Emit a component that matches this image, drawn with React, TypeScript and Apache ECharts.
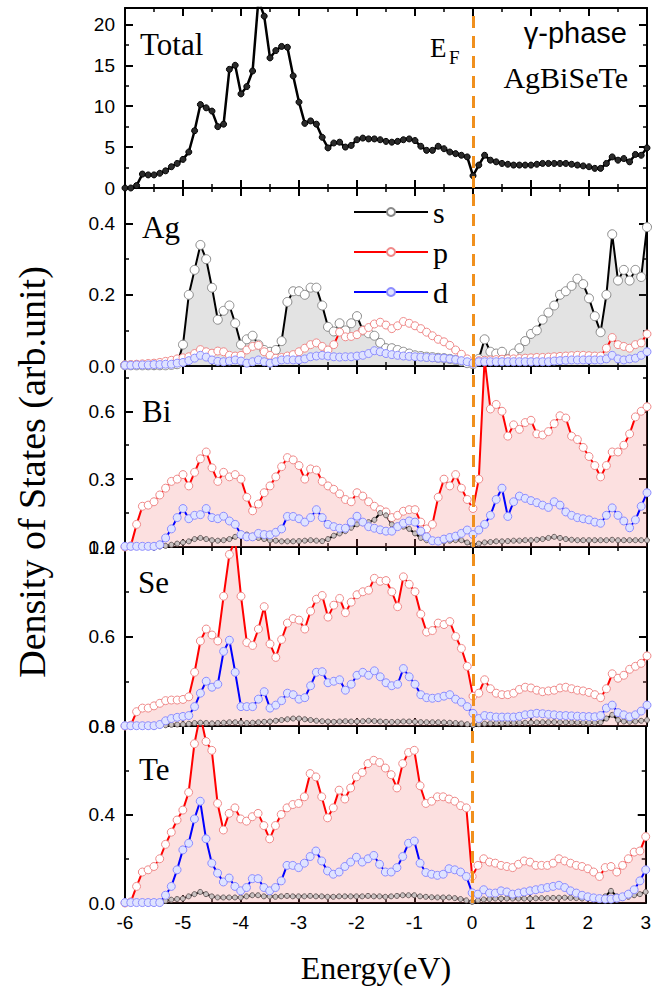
import React, { useEffect, useRef } from 'react';
import * as echarts from 'echarts';

// Energy grid (eV), 0.1 eV steps from -6 to 3
const ENERGY: number[] = Array.from({ length: 91 }, (_, i) => Math.round((-6 + i * 0.1) * 10) / 10);

const TOTAL = [
  0, 0, 0.3, 1.7, 1.6, 1.6, 1.8, 2.1, 2.6, 3.0,
  3.5, 4.4, 7.0, 10.2, 9.8, 9.4, 7.5, 7.8, 14.5, 15.0,
  11.5, 12.4, 14.3, 23, 21, 15.9, 16.8, 17.3, 17.2, 13.7,
  10.5, 7.9, 8.2, 7.8, 6.2, 4.9, 5.5, 5.6, 5.0, 5.2,
  5.9, 6.1, 6.0, 6.0, 5.9, 5.7, 5.6, 5.7, 5.9, 6.0,
  5.8, 5.1, 4.6, 4.6, 5.1, 4.8, 4.4, 4.2, 4.0, 3.8,
  1.5, 2.8, 4.0, 3.4, 3.2, 3.0, 2.9, 2.8, 2.8, 2.8,
  2.8, 2.9, 3.0, 3.0, 3.0, 3.0, 3.0, 2.9, 2.8, 2.7,
  2.6, 2.4, 2.4, 3.0, 3.8, 3.4, 3.6, 3.2, 4.1, 4.0,
  4.9,
];

const AG_S = [
  0.002, 0.002, 0.002, 0.002, 0.002, 0.002, 0.002, 0.002, 0.003, 0.005,
  0.06, 0.2, 0.27, 0.34, 0.30, 0.22, 0.13, 0.155, 0.17, 0.12,
  0.06, 0.075, 0.085, 0.06, 0.045, 0.04, 0.045, 0.07, 0.18, 0.21,
  0.21, 0.2, 0.22, 0.22, 0.17, 0.11, 0.097, 0.12, 0.1, 0.12,
  0.14, 0.1, 0.092, 0.085, 0.065, 0.05, 0.05, 0.045, 0.04, 0.035,
  0.03, 0.028, 0.026, 0.025, 0.023, 0.022, 0.02, 0.017, 0.013, 0.008,
  0.005, 0.02, 0.075, 0.04, 0.035, 0.04, 0.02, 0.035, 0.05, 0.07,
  0.09, 0.1, 0.13, 0.15, 0.17, 0.2, 0.21, 0.225, 0.245, 0.23,
  0.19, 0.14, 0.095, 0.2, 0.37, 0.24, 0.27, 0.24, 0.27, 0.25,
  0.39,
];
const AG_P = [
  0.003, 0.004, 0.005, 0.006, 0.007, 0.008, 0.01, 0.013, 0.016, 0.02,
  0.023, 0.026, 0.035, 0.046, 0.04, 0.036, 0.042, 0.04, 0.03, 0.028,
  0.03, 0.045, 0.055, 0.058, 0.04, 0.03, 0.022, 0.024, 0.028, 0.032,
  0.04, 0.05, 0.06, 0.065, 0.055, 0.045, 0.06, 0.095, 0.082, 0.083,
  0.088, 0.1, 0.108, 0.118, 0.123, 0.115, 0.105, 0.113, 0.125, 0.12,
  0.113, 0.105, 0.095, 0.085, 0.075, 0.068, 0.058, 0.045, 0.033, 0.02,
  0.008, 0.015, 0.016, 0.017, 0.018, 0.019, 0.02, 0.02, 0.021, 0.022,
  0.023, 0.024, 0.024, 0.025, 0.026, 0.027, 0.028, 0.029, 0.03, 0.03,
  0.029, 0.028, 0.028, 0.05, 0.08, 0.06, 0.055, 0.05, 0.06, 0.065,
  0.09,
];
const AG_D = [
  0.002, 0.002, 0.003, 0.003, 0.003, 0.004, 0.004, 0.005, 0.005, 0.008,
  0.01, 0.015, 0.022, 0.03, 0.025, 0.017, 0.013, 0.012, 0.014, 0.017,
  0.014, 0.008, 0.012, 0.017, 0.012, 0.008, 0.012, 0.017, 0.018, 0.017,
  0.017, 0.02, 0.026, 0.028, 0.03, 0.028, 0.026, 0.025, 0.026, 0.026,
  0.028, 0.03, 0.035, 0.043, 0.04, 0.035, 0.032, 0.03, 0.028, 0.027,
  0.026, 0.025, 0.024, 0.023, 0.022, 0.022, 0.02, 0.018, 0.015, 0.012,
  0.008, 0.012, 0.012, 0.012, 0.012, 0.012, 0.012, 0.012, 0.012, 0.012,
  0.012, 0.012, 0.012, 0.012, 0.014, 0.015, 0.016, 0.017, 0.017, 0.017,
  0.017, 0.017, 0.017, 0.02, 0.03, 0.02, 0.017, 0.02, 0.022, 0.03,
  0.04,
];

const BI_S = [
  0.002, 0.002, 0.002, 0.002, 0.002, 0.002, 0.002, 0.005, 0.01, 0.015,
  0.02, 0.025, 0.035, 0.04, 0.035, 0.03, 0.028, 0.03, 0.035, 0.045,
  0.05, 0.055, 0.05, 0.04, 0.035, 0.03, 0.028, 0.025, 0.025, 0.025,
  0.026, 0.028, 0.03, 0.028, 0.026, 0.035, 0.05, 0.06, 0.07, 0.085,
  0.1, 0.105, 0.11, 0.12, 0.15, 0.14, 0.1, 0.095, 0.09, 0.08,
  0.06, 0.04, 0.03, 0.025, 0.025, 0.025, 0.028, 0.03, 0.03, 0.02,
  0.01, 0.015, 0.02, 0.022, 0.025, 0.025, 0.026, 0.028, 0.028, 0.03,
  0.03, 0.032, 0.035, 0.04, 0.045, 0.04, 0.035, 0.032, 0.03, 0.03,
  0.03, 0.03, 0.03, 0.03, 0.032, 0.03, 0.03, 0.03, 0.03, 0.03,
  0.03,
];
const BI_P = [
  0, 0.005, 0.1, 0.18, 0.185, 0.2, 0.23, 0.26, 0.29, 0.30,
  0.32, 0.27, 0.33, 0.39, 0.42, 0.35, 0.29, 0.33, 0.31, 0.32,
  0.30, 0.22, 0.16, 0.19, 0.24, 0.27, 0.31, 0.355, 0.395, 0.385,
  0.36, 0.30, 0.345, 0.34, 0.29, 0.27, 0.255, 0.235, 0.21, 0.2,
  0.24, 0.225, 0.2, 0.18, 0.165, 0.155, 0.13, 0.14, 0.158, 0.165,
  0.165, 0.11, 0.08, 0.1, 0.22, 0.3, 0.27, 0.32, 0.26, 0.21,
  0.17, 0.3, 0.83, 0.61, 0.63, 0.6, 0.49, 0.54, 0.52, 0.55,
  0.56, 0.5, 0.495, 0.51, 0.545, 0.58, 0.57, 0.49, 0.475, 0.44,
  0.40, 0.36, 0.31, 0.36, 0.42, 0.42, 0.45, 0.5, 0.575, 0.6,
  0.62,
];
const BI_D = [
  0.003, 0.003, 0.003, 0.003, 0.003, 0.003, 0.01, 0.04, 0.08, 0.13,
  0.17, 0.125, 0.14, 0.143, 0.17, 0.13, 0.125, 0.136, 0.115, 0.1,
  0.055, 0.045, 0.045, 0.06, 0.055, 0.054, 0.065, 0.08, 0.135, 0.135,
  0.125, 0.11, 0.13, 0.165, 0.13, 0.1, 0.09, 0.083, 0.083, 0.11,
  0.136, 0.11, 0.09, 0.083, 0.076, 0.07, 0.07, 0.09, 0.105, 0.115,
  0.11, 0.07, 0.045, 0.028, 0.026, 0.035, 0.042, 0.048, 0.06, 0.075,
  0.055, 0.075, 0.1, 0.14, 0.21, 0.26, 0.135, 0.2, 0.225, 0.215,
  0.205, 0.196, 0.185, 0.175, 0.2, 0.185, 0.155, 0.14, 0.13, 0.125,
  0.12, 0.11, 0.105, 0.14, 0.173, 0.14, 0.115, 0.085, 0.12, 0.18,
  0.24,
];

const SE_S = [
  0.002, 0.002, 0.002, 0.002, 0.002, 0.002, 0.003, 0.005, 0.008, 0.01,
  0.012, 0.015, 0.02, 0.022, 0.02, 0.018, 0.02, 0.022, 0.025, 0.025,
  0.022, 0.02, 0.022, 0.025, 0.028, 0.03, 0.035, 0.04, 0.045, 0.05,
  0.05, 0.045, 0.04, 0.035, 0.032, 0.03, 0.028, 0.03, 0.032, 0.03,
  0.03, 0.032, 0.035, 0.033, 0.03, 0.028, 0.027, 0.028, 0.03, 0.03,
  0.028, 0.026, 0.025, 0.025, 0.025, 0.024, 0.022, 0.02, 0.017, 0.012,
  0.006, 0.012, 0.016, 0.018, 0.02, 0.02, 0.02, 0.021, 0.022, 0.022,
  0.023, 0.024, 0.025, 0.025, 0.026, 0.026, 0.025, 0.024, 0.023, 0.022,
  0.022, 0.022, 0.025, 0.05, 0.075, 0.04, 0.03, 0.028, 0.03, 0.035,
  0.04,
];
const SE_P = [
  0, 0.005, 0.096, 0.12, 0.12, 0.135, 0.152, 0.17, 0.174, 0.174,
  0.178, 0.196, 0.36, 0.57, 0.65, 0.61, 0.57, 0.87, 1.15, 1.25,
  0.87, 0.56, 0.54, 0.65, 0.8, 0.55, 0.46, 0.58, 0.69, 0.72,
  0.71, 0.65, 0.77, 0.85, 0.875, 0.73, 0.81, 0.855, 0.76, 0.83,
  0.88, 0.9, 0.91, 0.99, 0.97, 0.975, 0.9, 0.8, 1.0, 0.95,
  0.9, 0.75, 0.63, 0.64, 0.69, 0.68, 0.7, 0.6, 0.52, 0.4,
  0.2, 0.22, 0.31, 0.25, 0.22, 0.21, 0.21, 0.22, 0.245, 0.26,
  0.255, 0.24, 0.23, 0.235, 0.24, 0.255, 0.26, 0.25, 0.24, 0.235,
  0.225, 0.21, 0.19, 0.25, 0.35, 0.32, 0.34, 0.38, 0.4, 0.42,
  0.47,
];
const SE_D = [
  0.002, 0.002, 0.002, 0.002, 0.002, 0.002, 0.01, 0.035, 0.05, 0.058,
  0.064, 0.07, 0.13, 0.22, 0.3, 0.26, 0.28, 0.5, 0.575, 0.36,
  0.13, 0.13, 0.13, 0.18, 0.23, 0.12, 0.14, 0.17, 0.22, 0.21,
  0.18, 0.19, 0.27, 0.36, 0.364, 0.29, 0.3, 0.31, 0.24, 0.28,
  0.34, 0.36, 0.34, 0.37, 0.33, 0.29, 0.27, 0.28, 0.385, 0.33,
  0.28, 0.21, 0.19, 0.186, 0.19, 0.2, 0.21, 0.18, 0.16, 0.13,
  0.085, 0.05, 0.07, 0.065, 0.06, 0.06, 0.06, 0.06, 0.065, 0.075,
  0.08, 0.085, 0.082, 0.078, 0.075, 0.07, 0.07, 0.068, 0.066, 0.064,
  0.063, 0.062, 0.07, 0.12, 0.14, 0.09, 0.075, 0.062, 0.075, 0.1,
  0.14,
];

const TE_S = [
  0.002, 0.002, 0.002, 0.002, 0.002, 0.002, 0.002, 0.01, 0.015, 0.018,
  0.02, 0.03, 0.04, 0.05, 0.04, 0.03, 0.025, 0.025, 0.025, 0.025,
  0.025, 0.03, 0.035, 0.035, 0.03, 0.03, 0.028, 0.03, 0.032, 0.03,
  0.03, 0.03, 0.032, 0.03, 0.03, 0.028, 0.028, 0.03, 0.03, 0.03,
  0.03, 0.03, 0.032, 0.03, 0.03, 0.028, 0.03, 0.032, 0.035, 0.035,
  0.035, 0.03, 0.028, 0.026, 0.025, 0.025, 0.025, 0.022, 0.018, 0.012,
  0.005, 0.012, 0.016, 0.018, 0.02, 0.02, 0.02, 0.02, 0.02, 0.02,
  0.02, 0.021, 0.022, 0.022, 0.023, 0.024, 0.024, 0.023, 0.022, 0.02,
  0.02, 0.02, 0.022, 0.03, 0.055, 0.03, 0.025, 0.028, 0.035, 0.04,
  0.05,
];
const TE_P = [
  0, 0.005, 0.075, 0.14, 0.15, 0.165, 0.2, 0.265, 0.32, 0.375,
  0.42, 0.5, 0.72, 0.85, 0.73, 0.69, 0.45, 0.33, 0.405, 0.43,
  0.38, 0.37, 0.39, 0.405, 0.35, 0.29, 0.35, 0.4, 0.43, 0.445,
  0.45, 0.48, 0.585, 0.57, 0.48, 0.385, 0.43, 0.51, 0.47, 0.52,
  0.57, 0.59, 0.63, 0.645, 0.635, 0.61, 0.58, 0.52, 0.63, 0.68,
  0.69, 0.53, 0.45, 0.46, 0.48, 0.48, 0.47, 0.46, 0.44, 0.43,
  0.12, 0.17, 0.2, 0.185, 0.18, 0.17, 0.165, 0.16, 0.175, 0.19,
  0.185, 0.17, 0.17, 0.17, 0.18, 0.2, 0.19, 0.18, 0.17, 0.165,
  0.155, 0.14, 0.12, 0.16, 0.165, 0.14, 0.17, 0.2, 0.23, 0.235,
  0.3,
];
const TE_D = [
  0.002, 0.002, 0.002, 0.002, 0.002, 0.002, 0.002, 0.035, 0.075, 0.15,
  0.24, 0.27, 0.38, 0.46, 0.29, 0.18, 0.135, 0.095, 0.113, 0.075,
  0.055, 0.07, 0.11, 0.11, 0.07, 0.055, 0.07, 0.1, 0.17, 0.17,
  0.16, 0.18, 0.21, 0.235, 0.19, 0.145, 0.13, 0.14, 0.165, 0.185,
  0.207, 0.185, 0.2, 0.215, 0.175, 0.14, 0.14, 0.16, 0.21, 0.27,
  0.28, 0.18, 0.138, 0.13, 0.125, 0.13, 0.155, 0.15, 0.14, 0.12,
  0.046, 0.04, 0.06, 0.045, 0.045, 0.055, 0.05, 0.04, 0.045, 0.05,
  0.055, 0.06, 0.065, 0.07, 0.075, 0.08, 0.07, 0.055, 0.045, 0.035,
  0.028, 0.023, 0.02, 0.018, 0.018, 0.022, 0.028, 0.04, 0.06, 0.1,
  0.15,
];

const X_TICKS = [-6, -5, -4, -3, -2, -1, 0, 1, 2, 3];
const TOTAL_TICKS = [0, 5, 10, 15, 20];
const AG_TICKS = [0, 0.2, 0.4];
const BI_TICKS = [0, 0.3, 0.6];
const SE_TICKS = [0, 0.6, 1.2];
const TE_TICKS = [0, 0.4, 0.8];
const PANEL_LABELS = ['Total', 'Ag', 'Bi', 'Se', 'Te'];
const ORBITALS = ['s', 'p', 'd'];

const SANS = '"Liberation Sans", Arial, sans-serif';
const SERIF = '"Liberation Serif", "Times New Roman", serif';

// layout (px)
const PLOT_LEFT = 125;
const PLOT_RIGHT = 7;
const PANELS = [
  { top: 8, height: 180, max: 22, interval: 5, ticks: TOTAL_TICKS, dec: 0 },
  { top: 188, height: 178, max: 0.5, interval: 0.2, ticks: AG_TICKS, dec: 1 },
  { top: 366, height: 181, max: 0.8, interval: 0.3, ticks: BI_TICKS, dec: 1 },
  { top: 547, height: 179, max: 1.2, interval: 0.6, ticks: SE_TICKS, dec: 1 },
  { top: 726, height: 177, max: 0.8, interval: 0.4, ticks: TE_TICKS, dec: 1 },
];

const pair = (vals: number[]) => ENERGY.map((e, i) => [e, vals[i]]);
const has = (arr: number[], v: number) => arr.some((t) => Math.abs(t - v) < 1e-6);

const EF_LINE = {
  silent: true,
  symbol: ['none', 'none'],
  label: { show: false },
  lineStyle: { color: '#f0901e', width: 3, type: [12, 8] },
  data: [{ xAxis: 0 }],
};

const STYLE: Record<string, any> = {
  s: { line: '#000000', fill: '#ffffff', border: '#8a8a8a' },
  p: { line: '#ff0000', fill: '#ffffff', border: '#f08a8a' },
  d: { line: '#0000ff', fill: '#dfe3ff', border: '#8d8dff' },
};

function orbSeries(name: string, vals: number[], g: number, opts: any = {}) {
  const st = STYLE[name];
  const s: any = {
    type: 'line',
    name,
    xAxisIndex: 2 * g,
    yAxisIndex: 2 * g,
    data: pair(vals),
    symbol: 'circle',
    symbolSize: opts.size || 8,
    showSymbol: true,
    showAllSymbol: true,
    clip: true,
    lineStyle: { color: st.line, width: 2 },
    itemStyle: { color: opts.markFill || st.fill, borderColor: opts.markBorder || st.border, borderWidth: 1 },
    emphasis: { disabled: true },
  };
  if (opts.area) s.areaStyle = { color: opts.area, origin: 'start' };
  if (opts.ef) s.markLine = EF_LINE;
  return s;
}

export default function App() {
  const ref = useRef<HTMLDivElement>(null);

  useEffect(() => {
    if (!ref.current) return;
    const chart = echarts.init(ref.current, undefined, { renderer: 'svg' });

    const grid = PANELS.map((p) => ({ left: PLOT_LEFT, right: PLOT_RIGHT, top: p.top, height: p.height, containLabel: false }));

    const axisLine = { show: true, onZero: false, lineStyle: { color: '#000', width: 2 } };
    const axisTick = { show: true, inside: true, length: 8, lineStyle: { color: '#000', width: 2 } };
    const minorTick = { show: true, splitNumber: 2, length: 4, lineStyle: { color: '#000', width: 1.5 } };

    const xAxis: any[] = [];
    const yAxis: any[] = [];
    PANELS.forEach((p, i) => {
      xAxis.push({
        type: 'value', gridIndex: i, min: -6, max: 3, interval: 1, position: 'bottom',
        axisLine, axisTick, minorTick, splitLine: { show: false },
        axisLabel: {
          show: i === PANELS.length - 1, margin: 10, fontSize: 19, fontFamily: SANS, color: '#000',
          formatter: (v: number) => (has(X_TICKS, v) ? String(v) : ''),
        },
      });
      xAxis.push({
        type: 'value', gridIndex: i, min: -6, max: 3, interval: 1, position: 'top',
        axisLine, axisTick, minorTick, splitLine: { show: false }, axisLabel: { show: false },
      });
      yAxis.push({
        type: 'value', gridIndex: i, min: 0, max: p.max, interval: p.interval, position: 'left',
        axisLine, axisTick, minorTick, splitLine: { show: false },
        axisLabel: {
          show: true, margin: 10, fontSize: 19, fontFamily: SANS, color: '#000',
          formatter: (v: number) => (has(p.ticks, v) ? v.toFixed(p.dec) : ''),
        },
      });
      yAxis.push({
        type: 'value', gridIndex: i, min: 0, max: p.max, interval: p.interval, position: 'right',
        axisLine, axisTick, minorTick, splitLine: { show: false }, axisLabel: { show: false },
      });
    });

    const pinkArea = 'rgba(242,110,110,0.30)';
    const series: any[] = [
      // Ag first so the legend picks its styles
      orbSeries('s', AG_S, 1, { area: 'rgba(90,90,90,0.24)', ef: true, size: 9 }),
      orbSeries('p', AG_P, 1, { size: 8 }),
      orbSeries('d', AG_D, 1, { size: 8 }),
      {
        type: 'line', name: 'Total', xAxisIndex: 0, yAxisIndex: 0, data: pair(TOTAL),
        symbol: 'circle', symbolSize: 6, showSymbol: true, showAllSymbol: true, clip: true,
        lineStyle: { color: '#000', width: 2.5 },
        itemStyle: { color: '#2a2a2a', borderColor: '#000', borderWidth: 1 },
        emphasis: { disabled: true },
        markLine: EF_LINE,
      },
      orbSeries('p', BI_P, 2, { area: pinkArea, ef: true }),
      orbSeries('s', BI_S, 2, { size: 5, markFill: '#c9c2c2', markBorder: '#6e6060' }),
      orbSeries('d', BI_D, 2, {}),
      orbSeries('p', SE_P, 3, { area: pinkArea, ef: true }),
      orbSeries('s', SE_S, 3, { size: 5, markFill: '#c9c2c2', markBorder: '#6e6060' }),
      orbSeries('d', SE_D, 3, {}),
      orbSeries('p', TE_P, 4, { area: pinkArea, ef: true }),
      orbSeries('s', TE_S, 4, { size: 5, markFill: '#c9c2c2', markBorder: '#6e6060' }),
      orbSeries('d', TE_D, 4, {}),
    ];

    const panelLabelPos = [
      { x: 140, y: 44 },
      { x: 142, y: 227 },
      { x: 142, y: 411 },
      { x: 138, y: 582 },
      { x: 139, y: 769 },
    ];

    const txt = (text: string, x: number, y: number, size: number, family: string, align = 'left', extra: any = {}) => ({
      type: 'text', x, y, silent: true, z: 100,
      style: {
        text, fontSize: size, fontFamily: family, fill: '#000',
        align, verticalAlign: 'middle', textAlign: align, textVerticalAlign: 'middle',
      },
      ...extra,
    });

    const graphic: any[] = [
      ...PANEL_LABELS.map((t, i) => txt(t, panelLabelPos[i].x, panelLabelPos[i].y, 31, SERIF)),
      txt('E', 430, 48, 27, SERIF),
      txt('F', 449, 57, 19, SERIF),
      txt('γ-phase', 627, 33, 29, SANS, 'right'),
      txt('AgBiSeTe', 628, 77, 30, SERIF, 'right'),
      txt('Energy(eV)', 376, 968, 32, SERIF, 'center'),
      txt('Density of States (arb.unit)', 32, 472, 38, SERIF, 'center', { rotation: Math.PI / 2 }),
    ];

    chart.setOption({
      animation: false,
      backgroundColor: '#ffffff',
      textStyle: { fontFamily: SANS },
      grid,
      xAxis,
      yAxis,
      legend: {
        data: ORBITALS,
        orient: 'vertical',
        left: 353,
        top: 197,
        padding: 0,
        itemGap: 10,
        itemWidth: 74,
        itemHeight: 10,
        selectedMode: false,
        textStyle: { fontFamily: SERIF, fontSize: 30, color: '#000' },
      },
      series,
      graphic,
    });

    return () => chart.dispose();
  }, []);

  return <div ref={ref} style={{ position: 'fixed', left: 0, top: 0, width: 654, height: 997, background: '#fff' }} />;
}
